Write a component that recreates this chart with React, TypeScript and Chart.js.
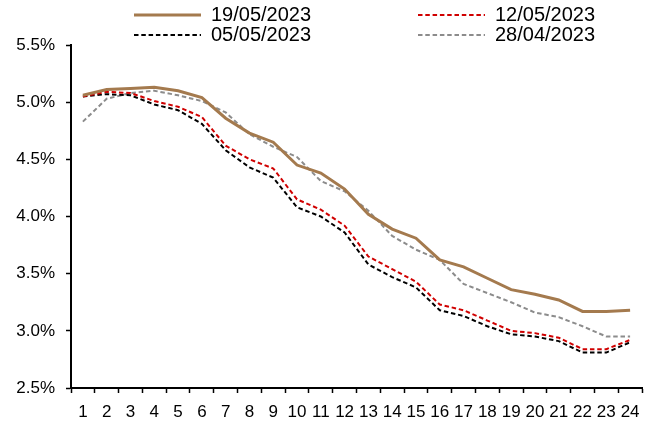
import React, { useEffect, useRef } from "react";
import { Chart, registerables } from "chart.js";

Chart.register(...registerables);

const categories = ["1","2","3","4","5","6","7","8","9","10","11","12","13","14","15","16","17","18","19","20","21","22","23","24"];
const seriesLabels = ["19/05/2023", "12/05/2023", "05/05/2023", "28/04/2023"];
const s19May = [5.06,5.11,5.12,5.13,5.10,5.04,4.86,4.73,4.65,4.45,4.38,4.24,4.02,3.89,3.81,3.62,3.56,3.46,3.36,3.32,3.27,3.17,3.17,3.18];
const s12May = [5.05,5.09,5.08,5.01,4.96,4.87,4.62,4.50,4.42,4.15,4.06,3.92,3.65,3.54,3.43,3.23,3.18,3.09,3.00,2.98,2.94,2.84,2.84,2.92];
const s05May = [5.05,5.07,5.06,4.98,4.93,4.81,4.58,4.43,4.34,4.08,4.00,3.86,3.58,3.47,3.38,3.18,3.13,3.04,2.97,2.95,2.91,2.81,2.81,2.90];
const s28Apr = [4.83,5.03,5.08,5.10,5.06,5.01,4.91,4.72,4.61,4.52,4.31,4.22,4.05,3.83,3.71,3.62,3.41,3.33,3.25,3.16,3.12,3.04,2.95,2.95];
const yMin = 2.5;
const yMax = 5.5;
const yStep = 0.5;

const FONT = "'Liberation Sans', Arial, sans-serif";
const colors = ["#A47A4E", "#D00000", "#000000", "#8C8C8C"];
const widths = [3, 2, 2, 2];
const dashes: number[][] = [[], [4.5, 2.8], [4.5, 2.8], [4.5, 2.8]];

const legendPlugin = {
  id: "customLegend",
  afterDraw(chart: any) {
    const ctx = chart.ctx;
    const items = [
      { i: 0, x: 134, y: 15 },
      { i: 1, x: 418, y: 15 },
      { i: 2, x: 134, y: 35 },
      { i: 3, x: 418, y: 35 },
    ];
    ctx.save();
    items.forEach(({ i, x, y }) => {
      const ds = chart.data.datasets[i];
      ctx.beginPath();
      ctx.strokeStyle = ds.borderColor;
      ctx.lineWidth = ds.borderWidth;
      ctx.setLineDash(ds.borderDash || []);
      ctx.moveTo(x, y);
      ctx.lineTo(x + 67, y);
      ctx.stroke();
      ctx.setLineDash([]);
      ctx.fillStyle = "#000";
      ctx.font = `20px ${FONT}`;
      ctx.textBaseline = "middle";
      ctx.textAlign = "left";
      ctx.fillText(ds.label, x + 77, y);
    });
    ctx.restore();
  },
};

export default function App() {
  const ref = useRef<HTMLCanvasElement | null>(null);
  useEffect(() => {
    document.body.style.margin = "0";
    if (!ref.current) return;
    const seriesData = [s19May, s12May, s05May, s28Apr];
    const chart = new Chart(ref.current, {
      type: "line",
      data: {
        labels: categories,
        datasets: seriesData.map((d, i) => ({
          label: seriesLabels[i],
          data: d,
          borderColor: colors[i],
          backgroundColor: colors[i],
          borderWidth: widths[i],
          borderDash: dashes[i],
          pointRadius: 0,
          tension: 0,
          fill: false,
        })),
      },
      options: {
        animation: false,
        responsive: false,
        maintainAspectRatio: false,
        layout: { padding: { left: 0, top: 45, right: 15, bottom: 0 } },
        plugins: {
          legend: { display: false },
          tooltip: { enabled: false },
        },
        scales: {
          x: {
            type: "category",
            offset: true,
            grid: {
              display: true,
              drawOnChartArea: false,
              drawTicks: true,
              tickLength: 5,
              tickColor: "#000",
              tickWidth: 1.5,
              offset: true,
            },
            border: { display: true, color: "#000", width: 2 },
            ticks: {
              color: "#000",
              font: { family: FONT, size: 17 },
              padding: 9,
              maxRotation: 0,
              autoSkip: false,
            },
            afterFit(scale: any) {
              scale.height = 35;
            },
          },
          y: {
            min: yMin,
            max: yMax,
            grid: {
              display: true,
              drawOnChartArea: false,
              drawTicks: true,
              tickLength: 5,
              tickColor: "#000",
              tickWidth: 1.5,
            },
            border: { display: true, color: "#000", width: 2 },
            ticks: {
              stepSize: yStep,
              color: "#000",
              font: { family: FONT, size: 17 },
              padding: 11,
              callback: (v: any) => `${Number(v).toFixed(1)}%`,
            },
            afterFit(scale: any) {
              scale.width = 71;
            },
          },
        },
      },
      plugins: [legendPlugin],
    });
    return () => chart.destroy();
  }, []);
  return (
    <div style={{ width: 657, height: 423 }}>
      <canvas ref={ref} width={657} height={423} style={{ display: "block", width: 657, height: 423 }} />
    </div>
  );
}
